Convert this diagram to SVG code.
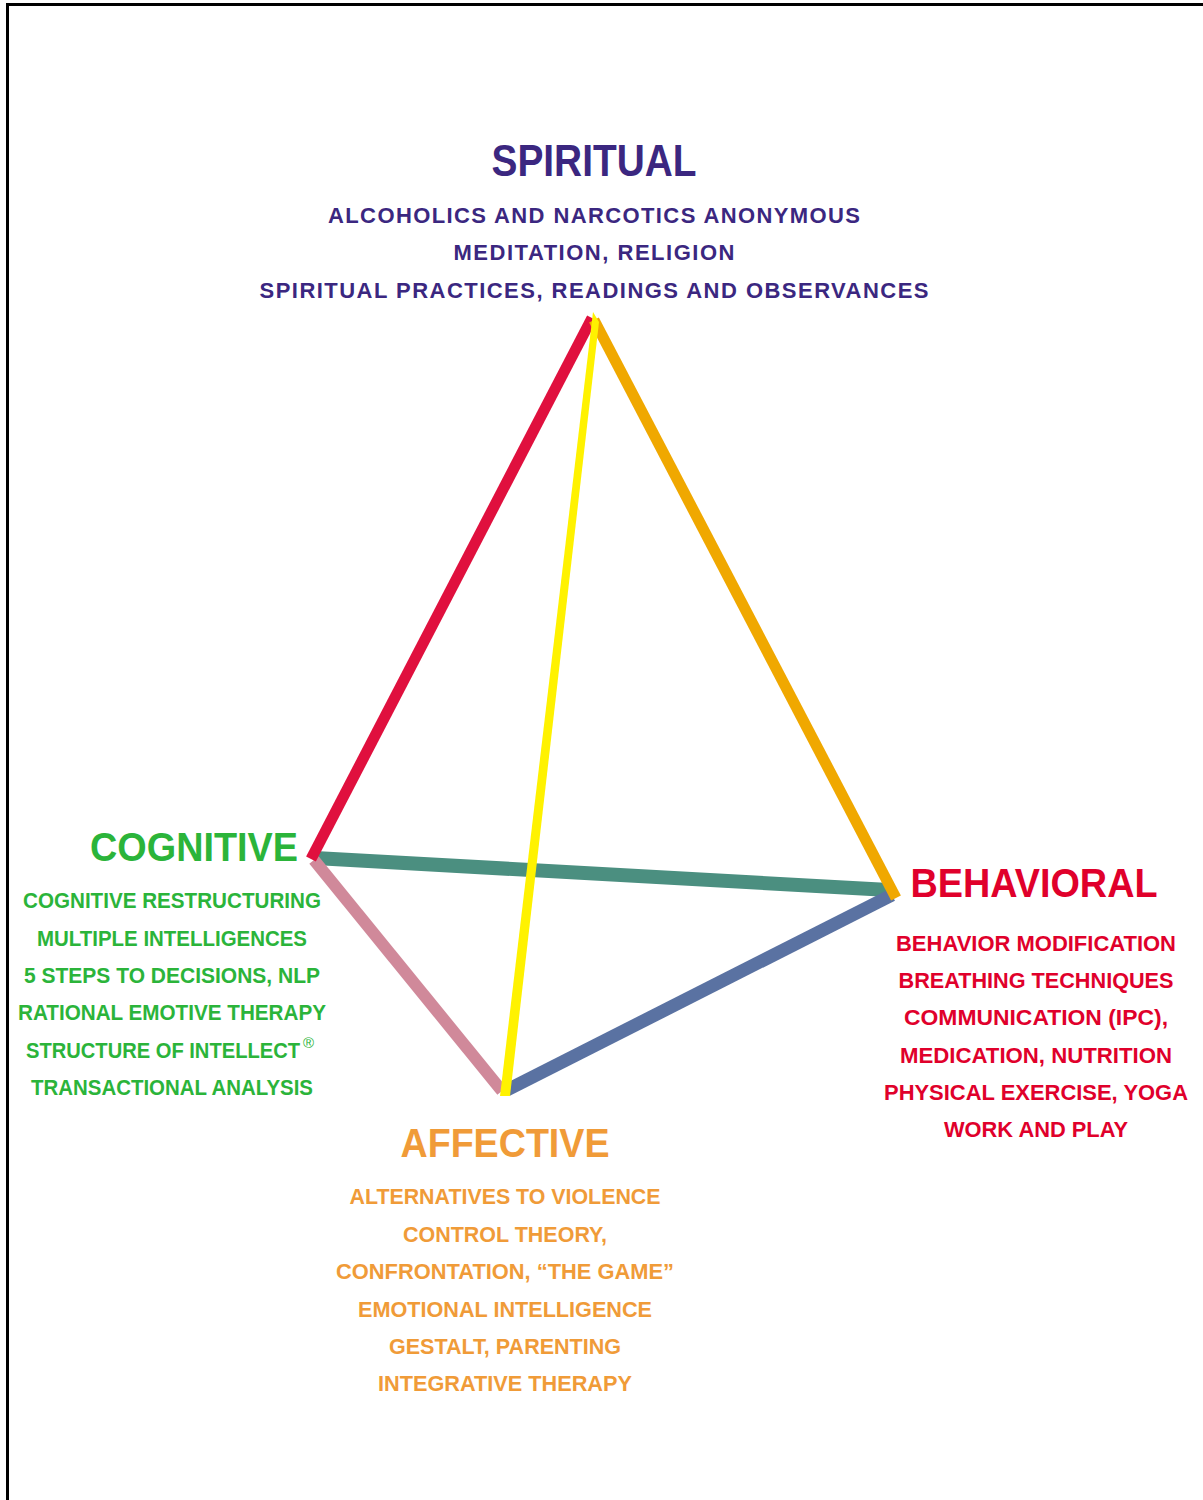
<svg xmlns="http://www.w3.org/2000/svg" width="1203" height="1500" viewBox="0 0 1203 1500">
  <style>
    .title { font-family: "Liberation Sans", Arial, sans-serif; font-weight: bold; text-anchor: middle; }
    .item { font-family: "Liberation Sans", Arial, sans-serif; text-anchor: middle; font-size: 22px; font-weight: bold; }
    .spirit { fill: #3b2780; }
    .cog { fill: #2bb43a; }
    .beh { fill: #e0002b; }
    .aff { fill: #f09b38; }
    .edge { fill: none; stroke-linecap: butt; }
  </style>

  <rect width="1203" height="1500" fill="#ffffff"/>
  <!-- page frame -->
  <path d="M7.5,1500 V4.5 H1203" fill="none" stroke="#000" stroke-width="3"/>

  <!-- tetrahedron edges -->
  <g id="connectors">
    <line class="edge" x1="315" y1="858" x2="889" y2="890" stroke="#4b8f80" stroke-width="14"/>
    <line class="edge" x1="314" y1="860" x2="502" y2="1091" stroke="#d0899a" stroke-width="12"/>
    <line class="edge" x1="507" y1="1090" x2="892" y2="895" stroke="#5a72a2" stroke-width="13"/>
    <line class="edge" x1="592" y1="318" x2="311" y2="859" stroke="#e0103e" stroke-width="11"/>
    <line class="edge" x1="594" y1="320" x2="896" y2="898" stroke="#f0a800" stroke-width="11"/>
    <path d="M593,312 L599,322 L510,1096 L500,1096 Z" fill="#fff200"/>
  </g>

  <g id="spiritual">
    <text class="title spirit" x="594" y="176" font-size="45" textLength="205" lengthAdjust="spacingAndGlyphs">SPIRITUAL</text>
    <text class="item spirit" x="594" y="223" font-size="21" textLength="532" lengthAdjust="spacing">ALCOHOLICS AND NARCOTICS ANONYMOUS</text>
    <text class="item spirit" x="594" y="260" font-size="21" textLength="281" lengthAdjust="spacing">MEDITATION, RELIGION</text>
    <text class="item spirit" x="594" y="298" font-size="21" textLength="669" lengthAdjust="spacing">SPIRITUAL PRACTICES, READINGS AND OBSERVANCES</text>
  </g>

  <g id="cognitive">
    <text class="title cog" x="194" y="861" font-size="41" textLength="208" lengthAdjust="spacingAndGlyphs">COGNITIVE</text>
    <text class="item cog" x="172" y="908" textLength="298" lengthAdjust="spacingAndGlyphs">COGNITIVE RESTRUCTURING</text>
    <text class="item cog" x="172" y="946" textLength="270" lengthAdjust="spacingAndGlyphs">MULTIPLE INTELLIGENCES</text>
    <text class="item cog" x="172" y="983" textLength="296" lengthAdjust="spacingAndGlyphs">5 STEPS TO DECISIONS, NLP</text>
    <text class="item cog" x="172" y="1020" textLength="308" lengthAdjust="spacingAndGlyphs">RATIONAL EMOTIVE THERAPY</text>
    <text class="item cog" x="26" y="1058" style="text-anchor:start"><tspan textLength="274" lengthAdjust="spacingAndGlyphs">STRUCTURE OF INTELLECT</tspan><tspan font-size="15" font-weight="normal" dx="3" dy="-10">®</tspan></text>
    <text class="item cog" x="172" y="1095" textLength="282" lengthAdjust="spacingAndGlyphs">TRANSACTIONAL ANALYSIS</text>
  </g>

  <g id="behavioral">
    <text class="title beh" x="1034" y="897" font-size="41" textLength="247" lengthAdjust="spacingAndGlyphs">BEHAVIORAL</text>
    <text class="item beh" x="1036" y="951" textLength="280" lengthAdjust="spacingAndGlyphs">BEHAVIOR MODIFICATION</text>
    <text class="item beh" x="1036" y="988" textLength="275" lengthAdjust="spacingAndGlyphs">BREATHING TECHNIQUES</text>
    <text class="item beh" x="1036" y="1025" textLength="264" lengthAdjust="spacingAndGlyphs">COMMUNICATION (IPC),</text>
    <text class="item beh" x="1036" y="1063" textLength="272" lengthAdjust="spacingAndGlyphs">MEDICATION, NUTRITION</text>
    <text class="item beh" x="1036" y="1100" textLength="304" lengthAdjust="spacingAndGlyphs">PHYSICAL EXERCISE, YOGA</text>
    <text class="item beh" x="1036" y="1137" textLength="184" lengthAdjust="spacingAndGlyphs">WORK AND PLAY</text>
  </g>

  <g id="affective">
    <text class="title aff" x="505" y="1157" font-size="41" textLength="209" lengthAdjust="spacingAndGlyphs">AFFECTIVE</text>
    <text class="item aff" x="505" y="1204" textLength="311" lengthAdjust="spacingAndGlyphs">ALTERNATIVES TO VIOLENCE</text>
    <text class="item aff" x="505" y="1242" textLength="204" lengthAdjust="spacingAndGlyphs">CONTROL THEORY,</text>
    <text class="item aff" x="505" y="1279" textLength="338" lengthAdjust="spacingAndGlyphs">CONFRONTATION, “THE GAME”</text>
    <text class="item aff" x="505" y="1317" textLength="294" lengthAdjust="spacingAndGlyphs">EMOTIONAL INTELLIGENCE</text>
    <text class="item aff" x="505" y="1354" textLength="232" lengthAdjust="spacingAndGlyphs">GESTALT, PARENTING</text>
    <text class="item aff" x="505" y="1391" textLength="254" lengthAdjust="spacingAndGlyphs">INTEGRATIVE THERAPY</text>
  </g>
</svg>
